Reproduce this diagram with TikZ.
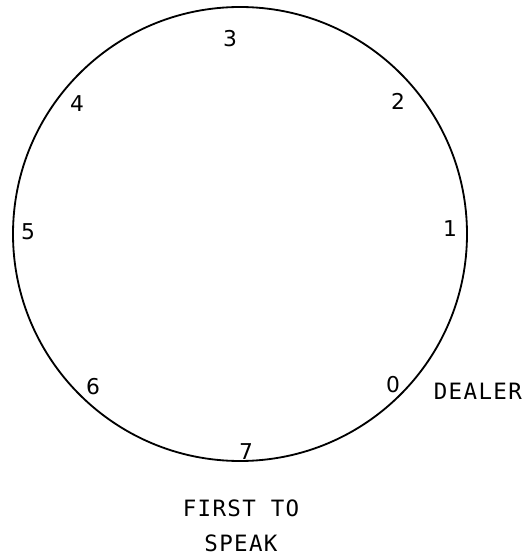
\documentclass[tikz,border=0pt]{standalone}
\usepackage{fontspec}
\newfontfamily\seatfont{DejaVu Sans}
\newfontfamily\notefont[LetterSpace=6]{DejaVu Sans Mono}
\usetikzlibrary{positioning}

\begin{document}
\begin{tikzpicture}[scale=1.0,
  seat/.style={font=\seatfont\fontsize{15.5}{18}\selectfont},
  note/.style={font=\notefont\fontsize{16}{19}\selectfont}]
  \useasboundingbox (-6.0,-8.075) rectangle (7.1,5.85);
  % table with the seats numbered round it
  \draw[line width=1.3pt] (0,0) circle (5.675);

  \node[seat] (p0) at (3.825,-3.775) {0};
  \node[seat] (p1) at (5.25,0.125) {1};
  \node[seat] (p2) at (3.95,3.325) {2};
  \node[seat] (p3) at (-0.25,4.875) {3};
  \node[seat] (p4) at (-4.075,3.25) {4};
  \node[seat] (p5) at (-5.3,0.05) {5};
  \node[seat] (p6) at (-3.675,-3.825) {6};
  \node[seat] (p7) at (0.15,-5.45) {7};

  \node[note, right=0.6cm of p0, yshift=-0.15cm] (dealer) {DEALER};
  \node[note] (first) at (0.025,-6.85) {FIRST TO};
  \node[note, below=0.22cm of first] (speak) {SPEAK};
\end{tikzpicture}
\end{document}
